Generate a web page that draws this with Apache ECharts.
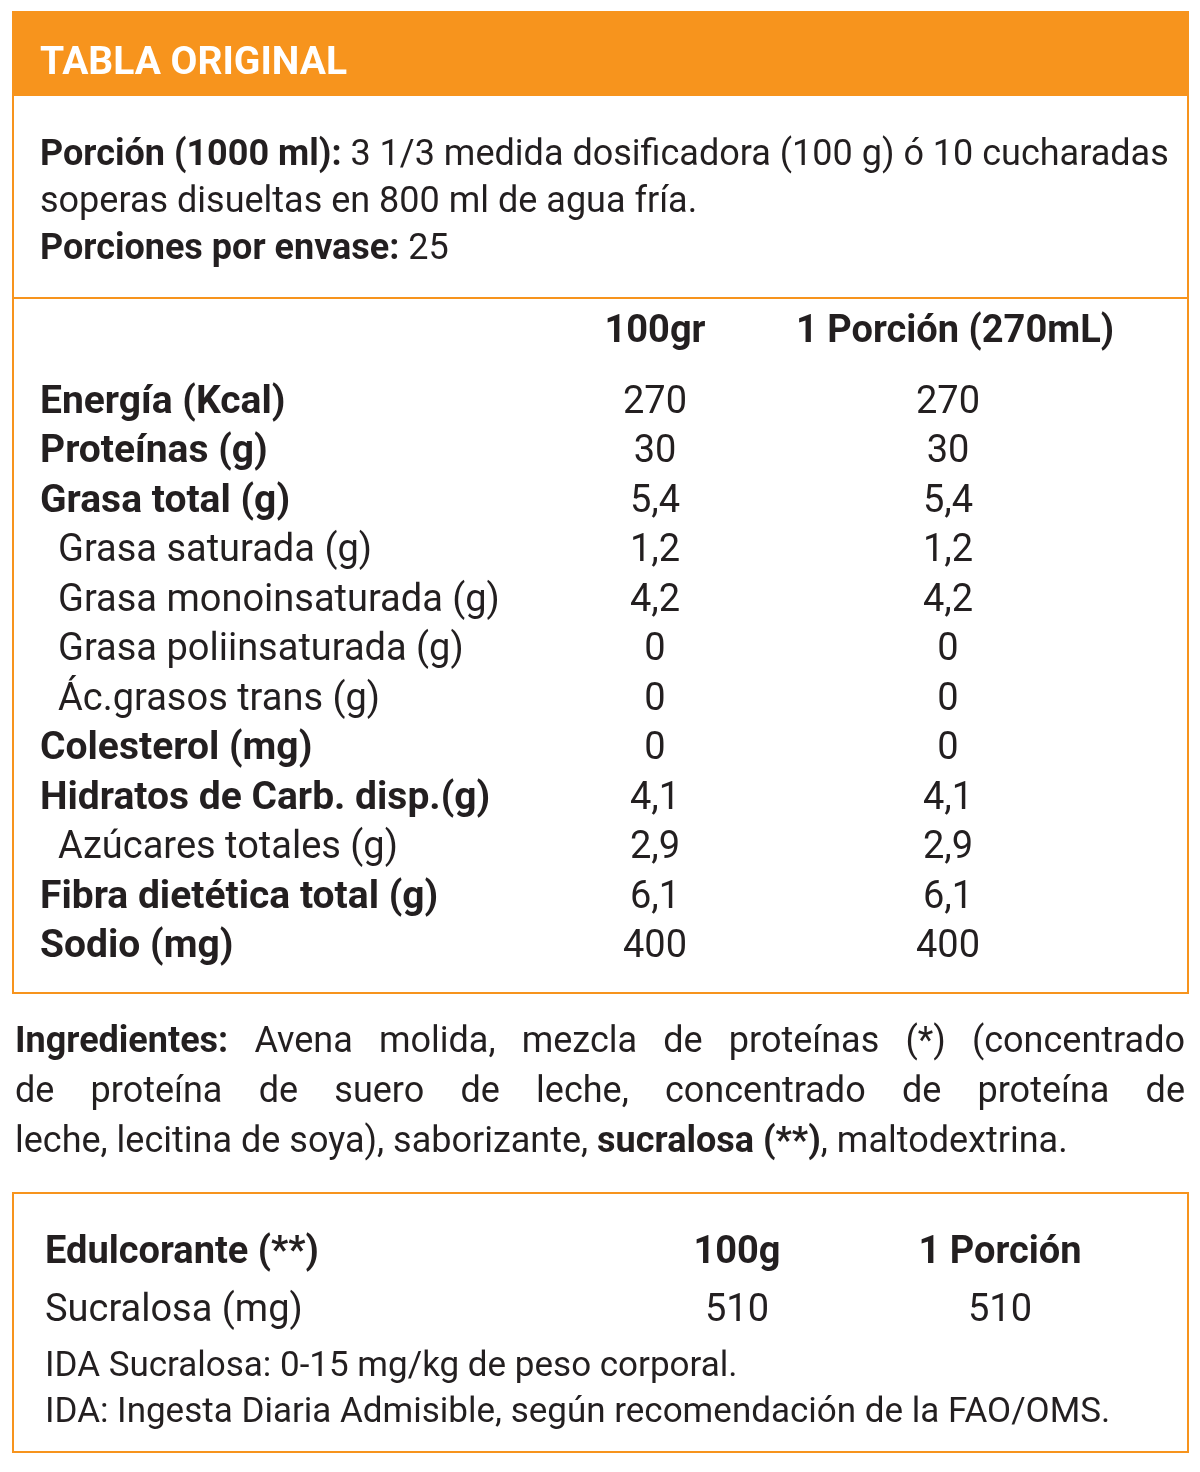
<!DOCTYPE html>
<html>
<head>
<meta charset="utf-8">
<script src="https://cdn.jsdelivr.net/npm/echarts@6/dist/echarts.min.js"></script>
<style>
  html, body { margin: 0; padding: 0; background: #fff; }
  #chart { width: 1200px; height: 1472px; }
</style>
</head>
<body>
<div id="chart"></div>
<script>
const title = 'TABLA ORIGINAL';
const rowLabels = ['Energía (Kcal)', 'Proteínas (g)', 'Grasa total (g)', 'Grasa saturada (g)',
  'Grasa monoinsaturada (g)', 'Grasa poliinsaturada (g)', 'Ác.grasos trans (g)', 'Colesterol (mg)',
  'Hidratos de Carb. disp.(g)', 'Azúcares totales (g)', 'Fibra dietética total (g)', 'Sodio (mg)'];
const subRow = [false, false, false, true, true, true, true, false, false, true, false, false];
const values100 = ['270', '30', '5,4', '1,2', '4,2', '0', '0', '0', '4,1', '2,9', '6,1', '400'];
const valuesPortion = ['270', '30', '5,4', '1,2', '4,2', '0', '0', '0', '4,1', '2,9', '6,1', '400'];
const colHeaders = ['100gr', '1 Porción (270mL)'];
const sweetHeaders = ['Edulcorante (**)', '100g', '1 Porción'];
const sweetRow = ['Sucralosa (mg)', '510', '510'];
const notes = ['IDA Sucralosa: 0-15 mg/kg de peso corporal.',
  'IDA: Ingesta Diaria Admisible, según recomendación de la FAO/OMS.'];
// ingredient lines: [text, bold]
const ingredientLines = [
  [['Ingredientes:', true], ['Avena molida, mezcla de proteínas (*) (concentrado', false]],
  [['de proteína de suero de leche, concentrado de proteína de', false]],
  [['leche, lecitina de soya), saborizante,', false], ['sucralosa (**)', true], [', maltodextrina.', false]]
];

const ORANGE = '#f7941d';
const INK = '#231f20';
const FONT = 'Roboto';
const FS = 36;

const chart = echarts.init(document.getElementById('chart'));
const g = [];
function txt(x, y, text, opts) {
  opts = opts || {};
  g.push({
    type: 'text', x: x, y: y,
    style: {
      text: text, fill: opts.fill || INK, fontFamily: FONT,
      fontSize: opts.size || FS, fontWeight: opts.bold ? 'bold' : 'normal',
      align: opts.align || 'left', verticalAlign: 'middle'
    }
  });
}

// frames
g.push({ type: 'rect', shape: { x: 13, y: 12, width: 1175, height: 981 }, style: { fill: 'none', stroke: ORANGE, lineWidth: 2 } });
g.push({ type: 'rect', shape: { x: 13, y: 12, width: 1175, height: 84 }, style: { fill: ORANGE } });
g.push({ type: 'line', shape: { x1: 13, y1: 298, x2: 1188, y2: 298 }, style: { stroke: ORANGE, lineWidth: 2 } });
g.push({ type: 'rect', shape: { x: 13, y: 1193, width: 1175, height: 259 }, style: { fill: 'none', stroke: ORANGE, lineWidth: 2 } });

txt(40, 64, title, { fill: '#fff', bold: true, size: 39 });

// serving info
g.push({
  type: 'text', x: 40, y: 132,
  style: {
    text: '{b|Porción (1000 ml):} 3 1/3 medida dosificadora (100 g) ó 10 cucharadas\nsoperas disueltas en 800 ml de agua fría.\n{b|Porciones por envase:} 25',
    fill: INK, fontFamily: FONT, fontSize: FS, lineHeight: 47,
    rich: { b: { fontWeight: 'bold', fontFamily: FONT, fontSize: FS, fill: INK } }
  }
});

txt(655, 332, colHeaders[0], { bold: true, align: 'center', size: 38 });
txt(955, 332, colHeaders[1], { bold: true, align: 'center', size: 38 });

rowLabels.forEach(function (lab, i) {
  const y = 403 + i * 49.5;
  txt(subRow[i] ? 58 : 40, y, lab, { bold: !subRow[i], size: subRow[i] ? 38 : 39 });
  txt(655, y, values100[i], { align: 'center', size: 38 });
  txt(948, y, valuesPortion[i], { align: 'center', size: 38 });
});

// justified ingredients
const ctx = document.createElement('canvas').getContext('2d');
function w(s, bold) { ctx.font = (bold ? 'bold ' : '') + FS + 'px ' + FONT; return ctx.measureText(s).width; }
ingredientLines.forEach(function (line, li) {
  const y = 1043 + li * 50;
  const words = [];
  line.forEach(function (seg, si) {
    seg[0].split(' ').forEach(function (wd, wi) {
      const glue = wi === 0 && si > 0 && seg[0][0] === ',';
      if (glue) words[words.length - 1].parts.push([wd, seg[1]]);
      else words.push({ parts: [[wd, seg[1]]] });
    });
  });
  const widths = words.map(function (o) { return o.parts.reduce(function (a, p) { return a + w(p[0], p[1]); }, 0); });
  const total = widths.reduce(function (a, b) { return a + b; }, 0);
  const justify = li < ingredientLines.length - 1;
  const gap = justify ? (1185 - 15 - total) / (words.length - 1) : w(' ', false);
  let x = 15;
  words.forEach(function (o, k) {
    let xx = x;
    o.parts.forEach(function (p) { txt(xx, y, p[0], { bold: p[1] }); xx += w(p[0], p[1]); });
    x += widths[k] + gap;
  });
});

// sweetener box
txt(45, 1253, sweetHeaders[0], { bold: true, size: 38 });
txt(737, 1253, sweetHeaders[1], { bold: true, align: 'center', size: 38 });
txt(1000, 1253, sweetHeaders[2], { bold: true, align: 'center', size: 38 });
txt(45, 1311, sweetRow[0], { size: 38 });
txt(737, 1311, sweetRow[1], { align: 'center', size: 38 });
txt(1000, 1311, sweetRow[2], { align: 'center', size: 38 });
txt(45, 1367, notes[0], { size: 35 });
txt(45, 1413, notes[1], { size: 35 });

chart.setOption({ animation: false, graphic: { elements: g } });
window.addEventListener('resize', function () { chart.resize(); });
</script>
</body>
</html>
